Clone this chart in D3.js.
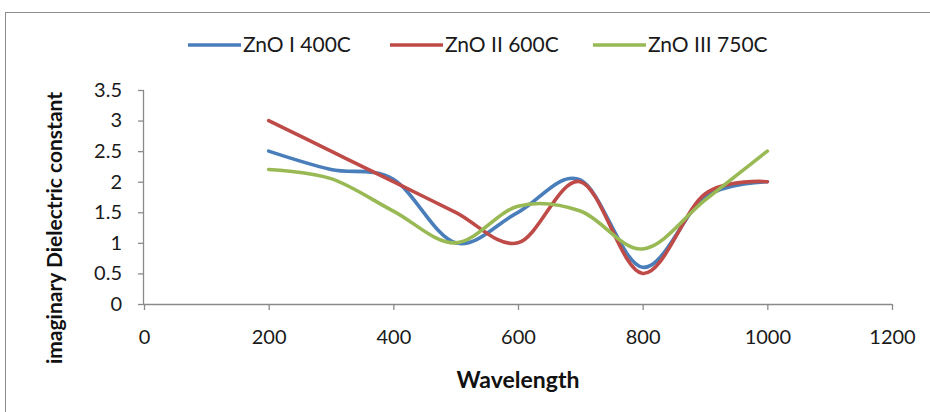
<!doctype html>
<html>
<head>
<script src="https://cdn.jsdelivr.net/npm/d3@7/dist/d3.min.js"></script>
<style>
  body { margin: 0; background: #fff; }
  text { font-family: Lato, "Liberation Sans", sans-serif; }
</style>
</head>
<body>
<svg width="930" height="412"></svg>
<script>
// data
var wavelengths = [200, 300, 400, 500, 600, 700, 800, 900, 1000];
var zno1 = [2.5, 2.2, 2.04, 1.0, 1.5, 2.03, 0.6, 1.75, 2.0];
var zno2 = [3.0, 2.5, 2.0, 1.5, 1.0, 2.0, 0.5, 1.8, 2.0];
var zno3 = [2.2, 2.05, 1.52, 1.0, 1.6, 1.52, 0.9, 1.7, 2.5];
var seriesNames = ["ZnO I 400C", "ZnO II 600C", "ZnO III 750C"];
var seriesColors = ["#4a7ebb", "#be4b48", "#98b954"];
var xTicks = [0, 200, 400, 600, 800, 1000, 1200];
var yTicks = [0, 0.5, 1, 1.5, 2, 2.5, 3, 3.5];

var series = [zno1, zno2, zno3];
var svg = d3.select("svg");

// outer chart frame
svg.append("rect").attr("x", 5.5).attr("y", 12.5).attr("width", 930).attr("height", 420)
  .attr("fill", "none").attr("stroke", "#8c8c8c").attr("stroke-width", 1);

var x = d3.scaleLinear().domain([0, 1200]).range([144, 892]);
var y = d3.scaleLinear().domain([0, 3.5]).range([304, 90]);
var axisColor = "#8a8a8a";

// y axis
var yAxis = svg.append("g").attr("transform", "translate(144,0)")
  .call(d3.axisLeft(y).tickValues(yTicks).tickSize(6).tickPadding(16).tickFormat(d3.format("")));
// x axis
var xAxis = svg.append("g").attr("transform", "translate(0,304)")
  .call(d3.axisBottom(x).tickValues(xTicks).tickSize(6).tickPadding(20).tickFormat(d3.format("")));
[xAxis, yAxis].forEach(function (g) {
  g.select(".domain").attr("stroke", axisColor).attr("stroke-width", 1.3);
  g.selectAll(".tick line").attr("stroke", axisColor).attr("stroke-width", 1.3);
  g.selectAll("text").attr("fill", "#1a1a1a").attr("font-size", 20)
    .style("font-family", "Lato, 'Liberation Sans', sans-serif");
});
xAxis.select(".domain").attr("d", "M" + x(0) + ",0.5H" + x(1200));
yAxis.select(".domain").attr("d", "M-0.5," + y(3.5) + "V" + y(0));

// lines
var line = d3.line()
  .x(function (d, i) { return x(wavelengths[i]); })
  .y(function (d) { return y(d); })
  .curve(d3.curveCatmullRom.alpha(0));

svg.selectAll(".series").data(series).enter().append("path")
  .attr("class", "series")
  .attr("d", line)
  .attr("fill", "none")
  .attr("stroke", function (d, i) { return seriesColors[i]; })
  .attr("stroke-width", 3.6)
  .attr("stroke-linecap", "round");

// legend
var legendX = [188, 390, 593];
var lg = svg.selectAll(".leg").data(seriesNames).enter().append("g")
  .attr("transform", function (d, i) { return "translate(" + legendX[i] + ",45)"; });
lg.append("line").attr("x1", 0).attr("x2", 53).attr("y1", 0).attr("y2", 0)
  .attr("stroke", function (d, i) { return seriesColors[i]; }).attr("stroke-width", 3.6);
lg.append("text").attr("x", 55).attr("y", 7).attr("font-size", 21).attr("fill", "#1a1a1a")
  .text(function (d) { return d; });

// axis titles
svg.append("text").attr("x", 518).attr("y", 388).attr("text-anchor", "middle")
  .attr("font-size", 23).attr("font-weight", "bold").attr("fill", "#111").text("Wavelength");
svg.append("text").attr("transform", "translate(62,228) rotate(-90)").attr("text-anchor", "middle")
  .attr("font-size", 21).attr("font-weight", "bold").attr("fill", "#111").text("imaginary Dielectric constant");
</script>
</body>
</html>
